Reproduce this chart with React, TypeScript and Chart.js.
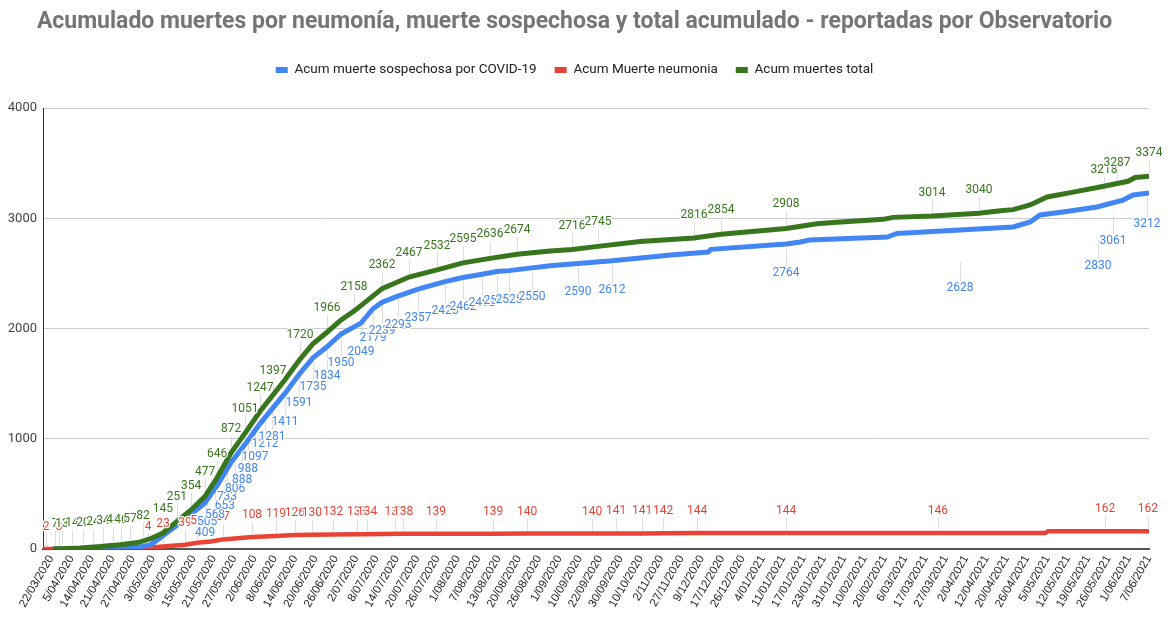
import React, { useEffect, useRef } from 'react';
import { Chart, registerables } from 'chart.js';

Chart.register(...registerables);

const TITLE = 'Acumulado muertes por neumonía, muerte sospechosa y total acumulado - reportadas por Observatorio';
const seriesNames = ['Acum muerte sospechosa por COVID-19', 'Acum Muerte neumonia', 'Acum muertes total'];
const seriesColors = ['#4285F4', '#EA4335', '#38761D'];

// Category tick labels (one every few records)
const dateLabels = [
  '22/03/2020', '5/04/2020', '14/04/2020', '21/04/2020', '27/04/2020', '3/05/2020', '9/05/2020', '15/05/2020',
  '21/05/2020', '27/05/2020', '2/06/2020', '8/06/2020', '14/06/2020', '20/06/2020', '26/06/2020', '2/07/2020',
  '8/07/2020', '14/07/2020', '20/07/2020', '26/07/2020', '1/08/2020', '7/08/2020', '13/08/2020', '20/08/2020',
  '26/08/2020', '1/09/2020', '10/09/2020', '22/09/2020', '30/09/2020', '10/10/2020', '2/11/2020', '27/11/2020',
  '9/12/2020', '17/12/2020', '26/12/2020', '4/01/2021', '11/01/2021', '17/01/2021', '23/01/2021', '31/01/2021',
  '10/02/2021', '20/02/2021', '6/03/2021', '17/03/2021', '27/03/2021', '2/04/2021', '12/04/2021', '20/04/2021',
  '26/04/2021', '5/05/2021', '12/05/2021', '19/05/2021', '26/05/2021', '1/06/2021', '7/06/2021',
];

// Series traces: position in tick-label units, cumulative value
const suspPos = [0.09, 2.41, 4.27, 4.91, 5.5, 6.19, 6.88, 7.57, 8.16, 8.85, 9.54, 10.27, 10.91, 11.5, 12.24, 12.88, 13.57, 14.26, 15.24, 15.83, 16.28, 17.06, 18.05, 19.37, 20.26, 21.19, 21.93, 22.52, 23.65, 24.54, 25.92, 27.59, 30.49, 32.31, 32.46, 36.15, 36.85, 37.3, 41.12, 41.61, 44.7, 46.68, 47.32, 48.15, 48.64, 49.77, 51.44, 52.72, 53.22, 54.0];
const suspVals = [0, 4, 15, 40, 120, 215, 315, 420, 575, 785, 950, 1135, 1280, 1411, 1593, 1735, 1834, 1950, 2049, 2179, 2239, 2293, 2357, 2425, 2462, 2492, 2517, 2525, 2550, 2570, 2590, 2615, 2667, 2694, 2718, 2766, 2785, 2803, 2830, 2862, 2893, 2914, 2921, 2966, 3030, 3057, 3102, 3165, 3211, 3229];

const pneuPos = [-0.4, 2.41, 4.37, 5.5, 6.59, 7.18, 7.86, 8.45, 9.88, 11.06, 11.99, 12.83, 13.87, 15.29, 17.16, 18.93, 21.74, 23.41, 26.61, 27.79, 29.07, 30.1, 31.77, 36.15, 43.62, 48.89, 49.04, 51.84, 54.0];
const pneuVals = [0, 2, 4, 23, 39, 57, 68, 87, 108, 119, 126, 130, 132, 134, 138, 139, 139, 140, 140, 141, 141, 142, 144, 144, 146, 146, 162, 162, 162];

const totalPos = [0.09, 1.42, 2.41, 3.39, 4.27, 4.91, 5.5, 6.19, 6.88, 7.57, 8.16, 8.85, 9.54, 10.27, 10.91, 11.5, 12.24, 12.88, 13.57, 14.26, 14.9, 16.28, 17.6, 18.98, 20.26, 21.59, 22.92, 24.54, 25.62, 26.9, 28.97, 31.62, 32.95, 36.15, 37.67, 38.46, 40.92, 41.41, 43.33, 45.64, 46.68, 47.32, 48.15, 48.99, 50.27, 51.59, 52.97, 53.32, 54.0];
const totalVals = [0, 10, 22, 38, 58, 95, 145, 251, 354, 477, 646, 872, 1051, 1247, 1397, 1535, 1720, 1862, 1966, 2078, 2158, 2362, 2467, 2532, 2595, 2636, 2674, 2703, 2716, 2745, 2790, 2820, 2854, 2908, 2950, 2962, 2990, 3008, 3020, 3045, 3068, 3078, 3120, 3193, 3237, 3283, 3335, 3370, 3380];

// Value labels shown on the chart
const suspLabelPos = [7.57, 7.67, 8.06, 8.55, 8.65, 9.05, 9.39, 9.68, 10.03, 10.52, 10.86, 11.5, 12.19, 12.88, 13.57, 14.26, 15.24, 15.83, 16.28, 17.06, 18.05, 19.37, 20.26, 21.19, 21.93, 22.52, 23.65, 25.92, 27.59, 36.15, 44.7, 51.49, 52.23, 53.9];
const suspLabelVals = [409, 505, 568, 653, 733, 806, 888, 988, 1097, 1212, 1281, 1411, 1591, 1735, 1834, 1950, 2049, 2179, 2239, 2293, 2357, 2425, 2462, 2492, 2517, 2525, 2550, 2590, 2612, 2764, 2628, 2830, 3061, 3212];

const pneuLabelPos = [-0.25, 0.39, 4.77, 5.5, 6.59, 7.18, 8.45, 9.88, 11.06, 11.99, 12.83, 13.87, 15.05, 15.54, 16.9, 17.31, 18.93, 21.74, 23.41, 26.61, 27.79, 29.07, 30.1, 31.77, 36.15, 43.62, 51.84, 53.95];
const pneuLabelVals = [2, 3, 4, 23, 39, 57, 87, 108, 119, 126, 130, 132, 133, 134, 137, 138, 139, 139, 140, 140, 141, 141, 142, 144, 144, 146, 162, 162];

const totalLabelPos = [0.19, 0.54, 1.03, 1.57, 2.06, 2.55, 3.04, 3.44, 3.88, 4.52, 5.5, 6.19, 6.88, 7.57, 8.16, 8.85, 9.54, 10.27, 10.91, 12.24, 13.57, 14.9, 16.28, 17.6, 18.98, 20.26, 21.59, 22.92, 25.62, 26.9, 31.62, 32.95, 36.15, 43.33, 45.64, 51.79, 52.43, 54.0];
const totalLabelVals = [7, 13, 14, 20, 24, 34, 44, 46, 57, 82, 145, 251, 354, 477, 646, 872, 1051, 1247, 1397, 1720, 1966, 2158, 2362, 2467, 2532, 2595, 2636, 2674, 2716, 2745, 2816, 2854, 2908, 3014, 3040, 3218, 3287, 3374];

const yTicks = [0, 1000, 2000, 3000, 4000];

const toXY = (pos: number[], vals: number[]) => pos.map((p, i) => ({ x: p, y: vals[i] }));

const labelGroups = [
  { pos: pneuLabelPos, vals: pneuLabelVals, color: seriesColors[1], dir: -1, offset: 22 },
  { pos: suspLabelPos, vals: suspLabelVals, color: seriesColors[0], dir: 1, offset: 29 },
  { pos: totalLabelPos, vals: totalLabelVals, color: seriesColors[2], dir: -1, offset: 24 },
];

const leaderPlugin = {
  id: 'leaderLines',
  beforeDatasetsDraw(chart: any) {
    const { ctx, scales } = chart;
    const x = scales.x, y = scales.y;
    ctx.save();
    ctx.strokeStyle = '#dddddd';
    ctx.lineWidth = 1;
    for (const g of labelGroups) {
      g.pos.forEach((p: number, i: number) => {
        const px = Math.round(x.getPixelForValue(p)) + 0.5;
        const py = y.getPixelForValue(g.vals[i]);
        const ly = py + g.dir * g.offset;
        ctx.beginPath();
        ctx.moveTo(px, py + g.dir * 3);
        ctx.lineTo(px, ly - g.dir * 7);
        ctx.stroke();
      });
    }
    ctx.restore();
  },
};

const valueLabelPlugin = {
  id: 'valueLabels',
  afterDatasetsDraw(chart: any) {
    const { ctx, scales } = chart;
    const x = scales.x, y = scales.y;
    ctx.save();
    ctx.font = '12px Roboto';
    ctx.textAlign = 'center';
    ctx.textBaseline = 'middle';
    ctx.lineJoin = 'round';
    for (const g of labelGroups) {
      g.pos.forEach((p: number, i: number) => {
        const px = x.getPixelForValue(p);
        const py = y.getPixelForValue(g.vals[i]) + g.dir * g.offset;
        const t = String(g.vals[i]);
        ctx.lineWidth = 2.5;
        ctx.strokeStyle = '#ffffff';
        ctx.strokeText(t, px, py);
        ctx.fillStyle = g.color;
        ctx.fillText(t, px, py);
      });
    }
    ctx.restore();
  },
};

export default function App() {
  const ref = useRef<HTMLCanvasElement>(null);
  useEffect(() => {
    if (!ref.current) return;
    Chart.defaults.font.family = 'Roboto';
    const chart = new Chart(ref.current, {
      type: 'line',
      data: {
        datasets: [
          { label: seriesNames[0], data: toXY(suspPos, suspVals), borderColor: seriesColors[0], backgroundColor: seriesColors[0], borderWidth: 5, pointRadius: 0, tension: 0, order: 1 },
          { label: seriesNames[1], data: toXY(pneuPos, pneuVals), borderColor: seriesColors[1], backgroundColor: seriesColors[1], borderWidth: 4.5, pointRadius: 0, tension: 0, order: 2 },
          { label: seriesNames[2], data: toXY(totalPos, totalVals), borderColor: seriesColors[2], backgroundColor: seriesColors[2], borderWidth: 5, pointRadius: 0, tension: 0, order: 0 },
        ],
      },
      options: {
        responsive: false,
        animation: false,
        devicePixelRatio: 1,
        layout: { padding: { left: 0, right: 19, top: 0, bottom: 0 } },
        plugins: {
          title: {
            display: true,
            text: TITLE,
            color: '#757575',
            font: { family: 'Roboto', size: 23, weight: 'bold' },
            padding: { top: 8.2, bottom: 9.45 },
          },
          subtitle: {
            display: true,
            text: '',
            weight: 500,
            font: { size: 1 },
            padding: { top: 0, bottom: 20.05 },
          } as any,
          legend: {
            display: true,
            position: 'top',
            labels: {
              font: { family: 'Roboto', size: 13.5 },
              color: '#222222',
              boxWidth: 12,
              boxHeight: 6,
              padding: 18,
              sort: (a: any, b: any) => a.datasetIndex - b.datasetIndex,
              generateLabels: (c: any) =>
                Chart.defaults.plugins.legend.labels.generateLabels(c).map((l: any) => ({ ...l, lineWidth: 0 })),
            },
          },
          tooltip: { enabled: false },
        },
        scales: {
          x: {
            type: 'linear',
            min: -0.4,
            max: 54,
            afterBuildTicks: (s: any) => {
              s.ticks = dateLabels.map((_, i) => ({ value: i }));
            },
            afterFit: (s: any) => {
              s.height = 68;
            },
            ticks: {
              autoSkip: false,
              maxRotation: 60,
              minRotation: 60,
              padding: 4,
              color: '#222222',
              font: { family: 'Liberation Sans', size: 11.5 },
              callback: (v: any) => dateLabels[v] ?? '',
            },
            grid: { display: false, drawTicks: false },
            border: { display: true, color: '#555555', width: 2 },
          },
          y: {
            min: 0,
            max: 4000,
            afterBuildTicks: (s: any) => {
              s.ticks = yTicks.map((v) => ({ value: v }));
            },
            afterFit: (s: any) => {
              s.width = 43;
            },
            ticks: {
              padding: 6,
              color: '#444444',
              font: { family: 'Roboto', size: 13 },
              callback: (v: any) => String(v),
            },
            grid: { color: '#cccccc', lineWidth: 1, drawTicks: false },
            border: { display: true, color: '#333333', width: 1 },
          },
        },
      } as any,
      plugins: [leaderPlugin, valueLabelPlugin],
    });
    return () => chart.destroy();
  }, []);

  return (
    <div style={{ position: 'fixed', left: 0, top: 0, width: 1168, height: 617, background: '#ffffff' }}>
      <canvas ref={ref} width={1168} height={617} style={{ display: 'block', width: 1168, height: 617 }} />
    </div>
  );
}
